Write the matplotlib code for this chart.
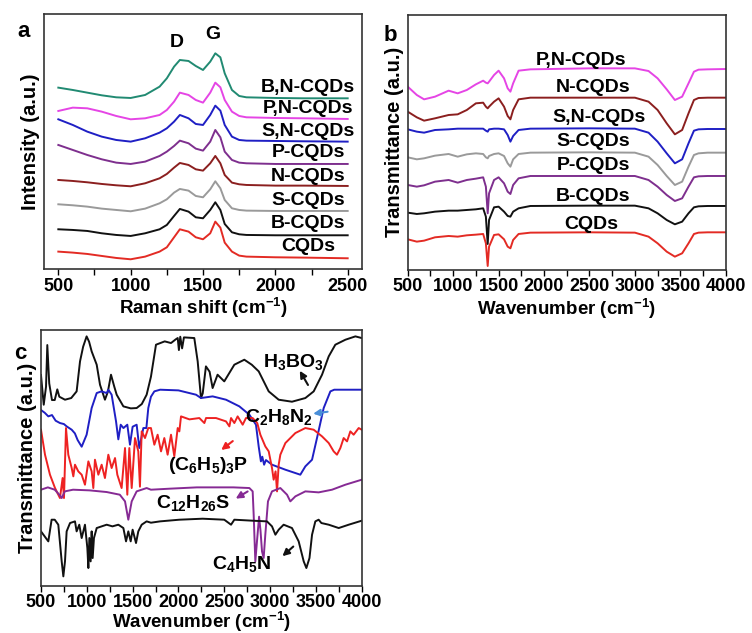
import matplotlib
matplotlib.use("Agg")
import matplotlib.pyplot as plt
from matplotlib.ticker import MultipleLocator

plt.rcParams["font.family"] = "Liberation Sans"
plt.rcParams["font.weight"] = "bold"
plt.rcParams["mathtext.fontset"] = "custom"
plt.rcParams["mathtext.rm"] = "Liberation Sans:bold"
plt.rcParams["mathtext.it"] = "Liberation Sans:bold"
plt.rcParams["mathtext.bf"] = "Liberation Sans:bold"

# ---- (a) Raman spectra, stacked ----
raman_x = [500, 600, 700, 800, 900, 1000, 1100, 1200, 1250, 1300, 1340, 1400,
           1450, 1500, 1550, 1585, 1620, 1650, 1700, 1750, 1800, 2000, 2200, 2500]
raman_cqds = [53, 50, 46, 40, 34, 30, 38, 53, 66, 96, 120, 113,
              96, 90, 108, 143, 125, 80, 53, 41, 38, 36, 35, 33]
raman_b = [120, 118, 115, 108, 103, 100, 108, 120, 133, 160, 181, 173,
           156, 153, 178, 201, 178, 136, 111, 105, 103, 102, 102, 102]
raman_s = [195, 192, 188, 182, 178, 174, 182, 198, 210, 230, 241, 236,
           220, 216, 240, 264, 243, 208, 183, 178, 176, 175, 175, 175]
raman_n = [268, 265, 261, 256, 252, 249, 258, 273, 286, 305, 319, 313,
           300, 296, 318, 340, 318, 283, 260, 255, 253, 251, 251, 250]
raman_p = [373, 358, 343, 330, 320, 316, 323, 340, 353, 370, 386, 378,
           362, 356, 383, 418, 396, 353, 328, 320, 318, 316, 316, 316]
raman_sn = [450, 433, 413, 398, 388, 383, 393, 410, 423, 443, 463, 453,
            436, 433, 463, 491, 476, 433, 398, 388, 386, 385, 384, 383]
raman_pn = [475, 485, 483, 473, 460, 450, 453, 463, 478, 503, 530, 523,
            508, 500, 530, 560, 546, 508, 473, 460, 456, 454, 453, 451]
raman_bn = [545, 538, 530, 522, 516, 514, 523, 548, 573, 608, 628, 625,
            610, 598, 623, 648, 636, 588, 538, 520, 516, 514, 513, 513]
raman_names = ["CQDs", "B-CQDs", "S-CQDs", "N-CQDs", "P-CQDs",
               "S,N-CQDs", "P,N-CQDs", "B,N-CQDs"]
raman_name_y = [67, 136, 205, 277, 349, 412, 481, 544]

# ---- (b) FTIR spectra of the dots, stacked ----
ir_x = [500, 600, 680, 800, 950, 1050, 1150, 1250, 1330, 1360, 1380, 1395,
        1450, 1500, 1560, 1600, 1630, 1660, 1720, 1850, 2500, 3000, 3150,
        3250, 3350, 3440, 3520, 3590, 3650, 3700, 3800, 4000]
ir_cqds = [92, 85, 88, 98, 102, 100, 104, 106, 108, 80, 12, 70,
           105, 107, 92, 70, 65, 90, 108, 112, 113, 112, 100,
           80, 55, 40, 50, 80, 108, 112, 113, 113]
ir_b = [172, 168, 170, 175, 178, 178, 180, 182, 185, 160, 78, 150,
        188, 190, 175, 162, 160, 175, 185, 192, 193, 193, 185,
        170, 150, 137, 145, 170, 188, 191, 192, 192]
ir_p = [255, 250, 254, 265, 270, 262, 270, 274, 278, 250, 170, 230,
        270, 278, 260, 235, 228, 255, 275, 282, 282, 282, 270,
        250, 225, 207, 215, 250, 278, 281, 282, 282]
ir_s = [338, 332, 335, 343, 348, 340, 347, 350, 348, 338, 335, 342,
        348, 350, 342, 320, 310, 332, 348, 352, 353, 352, 340,
        315, 282, 255, 265, 310, 345, 350, 352, 352]
ir_sn = [422, 415, 412, 420, 422, 424, 424, 424, 424, 418, 415, 422,
         424, 424, 422, 405, 385, 402, 420, 424, 425, 424, 412,
         385, 350, 320, 332, 380, 418, 422, 423, 423]
ir_n = [475, 458, 448, 455, 465, 467, 480, 500, 502, 490, 485, 490,
        505, 515, 490, 462, 452, 480, 512, 517, 517, 517, 505,
        480, 440, 407, 420, 470, 510, 516, 517, 517]
ir_pn = [550, 525, 512, 520, 538, 530, 540, 557, 568, 562, 560, 565,
         585, 598, 575, 545, 535, 560, 598, 602, 605, 605, 597,
         575, 542, 510, 520, 560, 595, 601, 602, 603]
ir_names = ["P,N-CQDs", "N-CQDs", "S,N-CQDs", "S-CQDs", "P-CQDs", "B-CQDs", "CQDs"]
ir_name_x = [2404, 2540, 2602, 2544, 2547, 2540, 2525]
ir_name_y = [630, 548, 458, 385, 313, 220, 135]

# ---- (c) FTIR spectra of the precursors ----
h3bo3_x = [500, 530, 555, 569, 590, 620, 650, 678, 700, 762, 830, 889, 926, 960,
           998, 1025, 1053, 1108, 1144, 1198, 1230, 1264, 1300, 1326, 1399, 1480,
           1544, 1600, 1653, 1700, 1755, 1850, 1919, 1970, 1992, 2005, 2020, 2040,
           2060, 2173, 2210, 2246, 2265, 2300, 2340, 2373, 2427, 2500, 2610, 2719,
           2800, 2876, 2985, 3094, 3239, 3385, 3476, 3567, 3640, 3712, 3822, 3931, 4000]
h3bo3_y = [633, 544, 598, 723, 608, 558, 558, 590, 568, 559, 564, 584, 674, 718,
           749, 733, 704, 664, 604, 559, 583, 634, 598, 574, 539, 533,
           534, 546, 574, 628, 724, 734, 729, 740, 744, 708, 748, 713,
           746, 744, 674, 564, 578, 659, 643, 594, 634, 614, 664, 679,
           664, 644, 584, 559, 553, 564, 584, 634, 689, 724, 739, 749, 744]

en_x = [500, 540, 580, 620, 660, 707, 750, 780, 835, 870, 900, 944, 998, 1053,
        1108, 1160, 1217, 1235, 1271, 1319, 1344, 1370, 1400, 1442, 1471, 1500,
        1544, 1573, 1617, 1650, 1671, 1700, 1737, 1800, 2000, 2192, 2246, 2373,
        2519, 2665, 2774, 2846, 2876, 2900, 2915, 2935, 2955, 3021, 3167, 3330,
        3385, 3458, 3512, 3585, 3658, 3700, 4000]
en_y = [528, 520, 509, 513, 496, 489, 486, 479, 469, 458, 438, 418, 454, 534,
        579, 584, 579, 589, 574, 494, 440, 484, 474, 484, 424, 478,
        484, 414, 474, 474, 534, 568, 584, 589, 587, 574, 564, 569,
        559, 539, 514, 484, 418, 374, 388, 364, 378, 364, 349, 334,
        359, 379, 444, 534, 584, 589, 589]

tpp_x = [500, 544, 598, 653, 707, 736, 751, 773, 798, 835, 853, 871, 907, 944,
         980, 1017, 1053, 1071, 1089, 1126, 1162, 1198, 1235, 1271, 1308, 1333,
         1380, 1417, 1442, 1464, 1490, 1526, 1562, 1580, 1599, 1635, 1671, 1700,
         1737, 1773, 1810, 1846, 1882, 1919, 1955, 1992, 2010, 2028, 2120, 2228,
         2283, 2301, 2410, 2519, 2556, 2574, 2610, 2646, 2701, 2737, 2810, 2860,
         2894, 2948, 2985, 3021, 3039, 3060, 3076, 3094, 3112, 3167, 3276, 3385,
         3476, 3567, 3640, 3694, 3730, 3767, 3803, 3840, 3876, 3912, 3967, 4000]
tpp_y = [469, 394, 334, 294, 264, 324, 264, 474, 394, 354, 329, 364, 344, 334,
         304, 374, 344, 294, 379, 334, 364, 324, 394, 354, 384, 334,
         294, 414, 274, 414, 294, 444, 404, 298, 464, 444, 474, 474,
         424, 454, 404, 444, 394, 454, 389, 474, 464, 509, 500, 504,
         489, 504, 504, 494, 479, 504, 489, 509, 484, 504, 504, 489,
         454, 419, 404, 354, 319, 344, 284, 364, 394, 429, 459, 474,
         469, 449, 429, 404, 394, 414, 444, 434, 464, 454, 474, 469]

ddt_x = [500, 575, 650, 700, 726, 760, 850, 1030, 1217, 1360, 1417, 1453, 1490,
         1544, 1653, 1700, 1900, 2200, 2600, 2774, 2810, 2821, 2839, 2857, 2880,
         2895, 2912, 2930, 2948, 2977, 3021, 3112, 3185, 3221, 3276, 3385, 3530,
         3676, 3822, 4000]
ddt_y = [289, 296, 289, 274, 264, 284, 289, 287, 282, 274, 254, 199, 254,
         284, 294, 289, 292, 296, 296, 294, 284, 214, 74, 134, 208,
         168, 104, 84, 154, 254, 284, 294, 274, 254, 269, 284, 281,
         289, 304, 319]

pyr_x = [500, 580, 616, 650, 689, 726, 744, 762, 780, 817, 871, 889, 918, 944,
         980, 1006, 1017, 1028, 1042, 1053, 1064, 1078, 1108, 1162, 1217, 1280,
         1344, 1399, 1428, 1453, 1479, 1500, 1537, 1562, 1599, 1653, 1700, 1800,
         2010, 2264, 2500, 2574, 2610, 2810, 2966, 3021, 3058, 3094, 3148, 3239,
         3312, 3367, 3396, 3430, 3458, 3494, 3530, 3560, 3640, 3749, 3858, 4000]
pyr_y = [164, 134, 199, 199, 184, 74, 29, 74, 164, 189, 194, 164, 184, 144,
         184, 114, 54, 144, 74, 164, 84, 144, 174, 179, 184, 179,
         184, 174, 134, 164, 134, 169, 129, 164, 184, 194, 190, 194,
         199, 202, 199, 184, 199, 196, 194, 179, 154, 169, 184, 174,
         134, 74, 54, 84, 154, 194, 199, 189, 184, 174, 184, 196]

fig = plt.figure(figsize=(7.52, 6.33), dpi=100)
ax_a = fig.add_axes([0.0589, 0.5746, 0.4221, 0.4033])
ax_b = fig.add_axes([0.5422, 0.5735, 0.4229, 0.4033])
ax_c = fig.add_axes([0.0545, 0.0742, 0.4265, 0.4044])


def style_axes(ax, xlim, ylim):
    ax.set_xlim(*xlim)
    ax.set_ylim(*ylim)
    ax.set_yticks([])
    ax.xaxis.set_major_locator(MultipleLocator(500))
    ax.xaxis.set_minor_locator(MultipleLocator(250))
    ax.tick_params(axis="x", which="both", direction="out", length=4,
                   width=1, labelsize=13, pad=2)
    for s in ax.spines.values():
        s.set_linewidth(1.2)
        s.set_color("#333333")
    for lab in ax.get_xticklabels():
        lab.set_fontweight("bold")


lw = 1.4
name_size = 14

# panel a
raman_series = [raman_cqds, raman_b, raman_s, raman_n, raman_p, raman_sn, raman_pn, raman_bn]
raman_colors = ["#e32b24", "#111111", "#9a9a9a", "#8b1f1f", "#7e2f8e",
                "#1f1fc4", "#e545e5", "#218a72"]
for y, c in zip(raman_series, raman_colors):
    ax_a.plot(raman_x, y, color=c, lw=lw)
for name, ty in zip(raman_names, raman_name_y):
    ax_a.text(2226, ty, name, ha="center", va="center", fontsize=name_size, fontweight="bold")
ax_a.text(1320, 679, "D", ha="center", va="center", fontsize=name_size, fontweight="bold")
ax_a.text(1570, 703, "G", ha="center", va="center", fontsize=name_size, fontweight="bold")
style_axes(ax_a, (403, 2597), (0, 766))
ax_a.set_xlabel("Raman shift (cm$^{-1}$)", fontsize=13.5, fontweight="bold", labelpad=1)
ax_a.set_ylabel("Intensity (a.u.)", fontsize=14.5, fontweight="bold", labelpad=3)
ax_a.text(-0.065, 0.93, "a", transform=ax_a.transAxes, fontsize=16,
          fontweight="bold", ha="center", va="center")

# panel b
ir_series = [ir_cqds, ir_b, ir_p, ir_s, ir_sn, ir_n, ir_pn]
ir_colors = ["#e32b24", "#111111", "#7e2f8e", "#9a9a9a", "#1f1fc4", "#8b1f1f", "#e545e5"]
for y, c in zip(ir_series, ir_colors):
    ax_b.plot(ir_x, y, color=c, lw=lw)
for name, tx, ty in zip(ir_names, ir_name_x, ir_name_y):
    ax_b.text(tx, ty, name, ha="center", va="center", fontsize=name_size, fontweight="bold")
style_axes(ax_b, (500, 4000), (0, 766))
ax_b.set_xlabel("Wavenumber (cm$^{-1}$)", fontsize=13.5, fontweight="bold", labelpad=1)
ax_b.set_ylabel("Transmittance (a.u.)", fontsize=14.5, fontweight="bold", labelpad=3)
ax_b.text(-0.055, 0.92, "b", transform=ax_b.transAxes, fontsize=16,
          fontweight="bold", ha="center", va="center")

# panel c
ax_c.plot(h3bo3_x, h3bo3_y, color="#111111", lw=lw)
ax_c.plot(en_x, en_y, color="#1f1fc4", lw=lw)
ax_c.plot(tpp_x, tpp_y, color="#ee2222", lw=lw)
ax_c.plot(ddt_x, ddt_y, color="#862a94", lw=lw)
ax_c.plot(pyr_x, pyr_y, color="#111111", lw=lw)

notes = [
    ("H$_3$BO$_3$", (3254, 673), (3309, 653), (3429, 596), "#111111"),
    ("C$_2$H$_8$N$_2$", (3101, 506), (3440, 516), (3658, 524), "#4a8fd8"),
    ("(C$_6$H$_5$)$_3$P", (2323, 363), (2443, 403), (2617, 440), "#ee2222"),
    ("C$_{12}$H$_{26}$S", (2163, 249), (2599, 258), (2781, 288), "#862a94"),
    ("C$_4$H$_5$N", (2690, 66), (3112, 84), (3276, 124), "#111111"),
]
for label, pos, head, tail, c in notes:
    ax_c.text(pos[0], pos[1], label, ha="center", va="center", fontsize=name_size,
              fontweight="bold")
    ax_c.annotate("", xy=head, xytext=tail,
                  arrowprops=dict(arrowstyle="-|>", color=c, lw=1.5, mutation_scale=10))
style_axes(ax_c, (500, 4000), (0, 768))
ax_c.set_xlabel("Wavenumber (cm$^{-1}$)", fontsize=13.5, fontweight="bold", labelpad=-1)
ax_c.set_ylabel("Transmittance (a.u.)", fontsize=14.5, fontweight="bold", labelpad=3)
ax_c.text(-0.065, 0.91, "c", transform=ax_c.transAxes, fontsize=16,
          fontweight="bold", ha="center", va="center")

fig.savefig("out.png", dpi=100)
